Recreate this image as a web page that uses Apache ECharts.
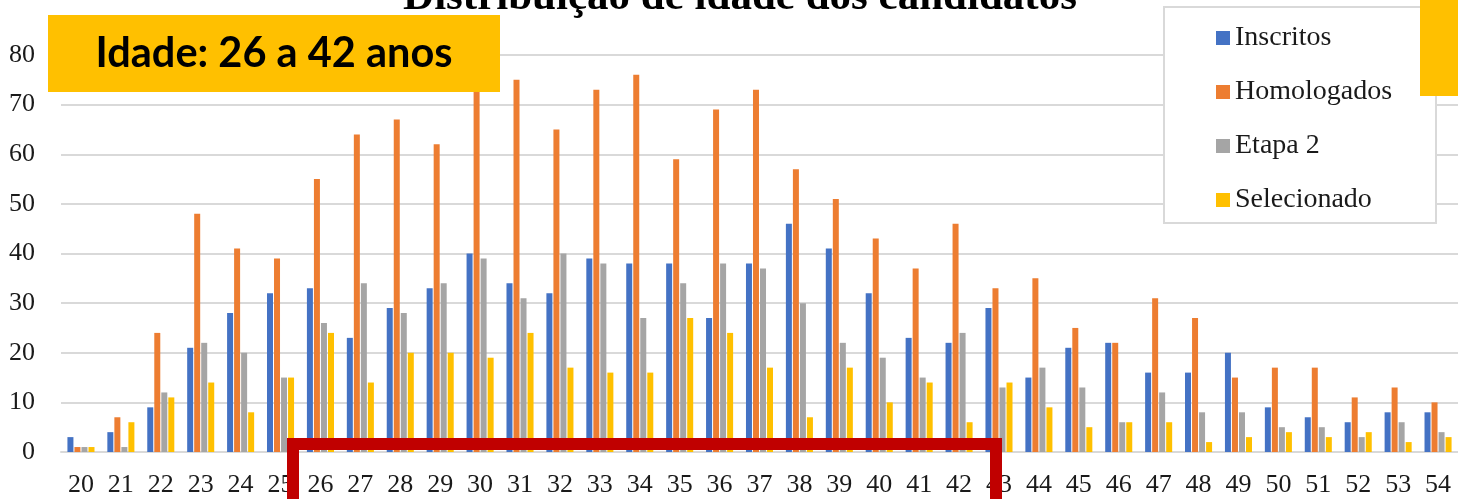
<!DOCTYPE html>
<html>
<head>
<meta charset="utf-8">
<script src="https://cdn.jsdelivr.net/npm/echarts@6/dist/echarts.min.js"></script>
<style>
  html, body { margin: 0; padding: 0; background: #fff; }
  #chart { width: 1458px; height: 499px; }
</style>
</head>
<body>
<div id="chart"></div>
<script>
const ages = ["20","21","22","23","24","25","26","27","28","29","30","31","32","33","34","35","36","37","38","39","40","41","42","43","44","45","46","47","48","49","50","51","52","53","54"];
const inscritos = [3,4,9,21,28,32,33,23,29,33,40,34,32,39,38,38,27,38,46,41,32,23,22,29,15,21,22,16,16,20,9,7,6,8,8];
const homologados = [1,7,24,48,41,39,55,64,67,62,78,75,65,73,76,59,69,73,57,51,43,37,46,33,35,25,22,31,27,15,17,17,11,13,10];
const etapa2 = [1,1,12,22,20,15,26,34,28,34,39,31,40,38,27,34,38,37,30,22,19,15,24,13,17,13,6,12,8,8,5,5,3,6,4];
const selecionado = [1,6,11,14,8,15,24,14,20,20,19,24,17,16,16,27,24,17,7,17,10,14,6,14,9,5,6,6,2,3,4,3,4,2,3];
const yMin = 0, yMax = 80, yStep = 10;

const seriesNames = ["Inscritos", "Homologados", "Etapa 2", "Selecionado"];
const seriesColors = ["#4472C4", "#ED7D31", "#A5A5A5", "#FFC000"];
const seriesData = [inscritos, homologados, etapa2, selecionado];

const serif = "'Liberation Serif', 'DejaVu Serif', serif";

const myChart = echarts.init(document.getElementById("chart"));

let series = [];
seriesData.forEach((val, i) => {
  series.push({
    name: seriesNames[i],
    type: "bar",
    barWidth: 6,
    barGap: "17%",
    itemStyle: { color: seriesColors[i] },
    data: val,
  });
});

const option = {
  backgroundColor: "#fff",
  animation: false,
  grid: {
    left: 61,
    top: 55,
    width: 1400,
    height: 397,
  },
  legend: {
    orient: "vertical",
    left: 1216,
    top: 24,
    padding: 0,
    itemGap: 26,
    itemWidth: 14,
    itemHeight: 14,
    itemStyle: { borderWidth: 0 },
    z: 20,
    textStyle: {
      fontFamily: serif,
      fontSize: 28,
      color: "#1a1a1a",
    },
    data: seriesNames.map((n) => ({ name: n, icon: "rect" })),
  },
  xAxis: {
    type: "category",
    data: ages,
    axisTick: { show: false },
    axisLine: { lineStyle: { color: "#d9d9d9", width: 2 } },
    axisLabel: {
      margin: 20,
      fontFamily: serif,
      fontSize: 26,
      color: "#1a1a1a",
    },
  },
  yAxis: {
    type: "value",
    min: yMin,
    max: yMax,
    interval: yStep,
    axisLine: { show: false },
    axisTick: { show: false },
    axisLabel: {
      margin: 26,
      fontFamily: serif,
      fontSize: 26,
      color: "#1a1a1a",
    },
    splitLine: { lineStyle: { color: "#d9d9d9", width: 2 } },
  },
  graphic: [
    {
      type: "text",
      z: 10,
      style: {
        text: "Distribuição de idade dos candidatos",
        x: 740,
        y: 19,
        align: "center",
        verticalAlign: "bottom",
        font: "bold 43px 'Liberation Serif', serif",
        fill: "#000",
      },
    },
    {
      type: "rect",
      z: 15,
      shape: { x: 1164, y: 7, width: 272, height: 216 },
      style: { fill: "#fff", stroke: "#d9d9d9", lineWidth: 2 },
    },
    {
      type: "rect",
      z: 30,
      shape: { x: 48, y: 15, width: 452, height: 77 },
      style: { fill: "#FFC000" },
    },
    {
      type: "text",
      z: 31,
      style: {
        text: "Idade: 26 a 42 anos",
        x: 274,
        y: 54,
        align: "center",
        verticalAlign: "middle",
        font: "bold 41.5px Lato, 'Open Sans', sans-serif",
        fill: "#000",
      },
    },
    {
      type: "rect",
      z: 30,
      shape: { x: 1420, y: 0, width: 40, height: 96 },
      style: { fill: "#FFC000" },
    },
    {
      type: "rect",
      z: 30,
      shape: { x: 293, y: 444, width: 703, height: 120 },
      style: { fill: "none", stroke: "#C00000", lineWidth: 12 },
    },
  ],
  series: series,
};
myChart.setOption(option);
</script>
</body>
</html>
